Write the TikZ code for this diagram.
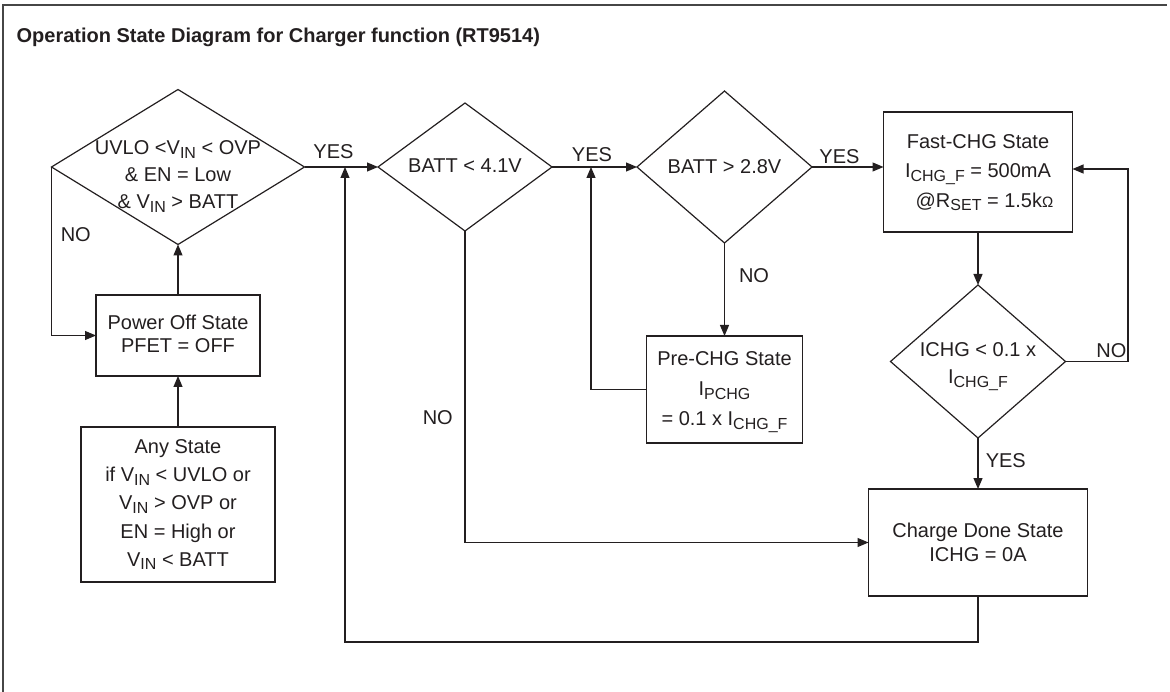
\documentclass[tikz,border=0pt]{standalone}
\usepackage{fontspec}
\setmainfont{Liberation Sans}
\usetikzlibrary{shapes.geometric,arrows.meta,calc}
\definecolor{ink}{RGB}{35,31,32}
\definecolor{framec}{RGB}{70,70,70}
\newcommand{\lsub}[1]{\raisebox{-3.3pt}{\fontsize{16}{16}\selectfont #1}}
\begin{document}
\begin{tikzpicture}[x=1pt,y=-1pt,line width=1.2pt]
\tikzset{
  dia/.style={shape=diamond,draw=ink,inner sep=0pt,outer sep=0pt},
  stbox/.style={shape=rectangle,draw=ink,inner sep=0pt,outer sep=0pt},
  txt/.style={align=center,inner sep=0pt,text=ink},
  lbl/.style={font=\fontsize{20}{24}\selectfont,inner sep=0pt,text=ink},
  arr/.style={draw=ink,-{Triangle[length=11pt,width=9pt]}},
  framel/.style={draw=framec,line width=1.8pt}
}
\useasboundingbox (0,0) rectangle (1170,692);
% frame
\coordinate (fbl) at (3,692);
\coordinate (ftl) at (3,5);
\coordinate (ftr) at (1167,5);
\draw[framel] (fbl) -- (ftl) -- (ftr);
% title
\node[anchor=base west,inner sep=0pt,text=ink,font=\fontsize{20}{24}\selectfont\bfseries] (title) at (16,43)
  {Operation State Diagram for Charger function (RT9514)};
% decision diamonds
\node[dia,minimum width=253pt,minimum height=155pt] (d1) at (178,167) {};
\node[dia,minimum width=174pt,minimum height=128pt] (d2) at (465,167) {};
\node[dia,minimum width=175pt,minimum height=152pt] (d3) at (724.5,167) {};
\node[dia,minimum width=175pt,minimum height=153pt] (d4) at (978,361.5) {};
% state boxes
\node[stbox,minimum width=164pt,minimum height=81pt] (poff) at (178,335.5) {};
\node[stbox,minimum width=194pt,minimum height=155pt] (any) at (178,504.5) {};
\node[stbox,minimum width=189pt,minimum height=120pt] (fast) at (978,172) {};
\node[stbox,minimum width=156pt,minimum height=107pt] (pre) at (724.5,389.5) {};
\node[stbox,minimum width=219pt,minimum height=107pt] (done) at (978,542.5) {};
% texts
\node[txt,font=\fontsize{20}{27}\selectfont] (t1) at (178,176.5)
  {UVLO <V\lsub{IN} < OVP\\ \& EN = Low\\ \& V\lsub{IN} > BATT};
\node[txt,font=\fontsize{20}{24}\selectfont] (t2) at (465,165.8) {BATT < 4.1V};
\node[txt,font=\fontsize{20}{24}\selectfont] (t3) at (724.5,166.7) {BATT > 2.8V};
\node[txt,font=\fontsize{20}{27.5}\selectfont] (t4) at (978,366.5)
  {ICHG < 0.1 x\\ I\lsub{CHG\_F}};
\node[txt,font=\fontsize{20}{23.3}\selectfont] (tp) at (178,333.6)
  {Power Off State\\ PFET = OFF};
\node[txt,font=\fontsize{20}{28.2}\selectfont] (ta) at (178,504.6)
  {Any State\\ if V\lsub{IN} < UVLO or\\ V\lsub{IN} > OVP or\\ EN = High or\\ V\lsub{IN} < BATT};
\node[txt,font=\fontsize{20}{29.5}\selectfont] (tf) at (978,172.6)
  {Fast-CHG State\\ I\lsub{CHG\_F} = 500mA\\ \hspace*{13pt}@R\lsub{SET} = 1.5k{\fontsize{15}{15}\selectfont Ω}};
\node[txt,font=\fontsize{20}{30.2}\selectfont] (tpre) at (724.5,392)
  {Pre-CHG State\\ I\lsub{PCHG}\\ = 0.1 x I\lsub{CHG\_F}};
\node[txt,font=\fontsize{20}{24}\selectfont] (td) at (978,541.9)
  {Charge Done State\\ ICHG = 0A};
% helper coordinates
\coordinate (j1) at (345,167);
\coordinate (bot) at (345,642);
\coordinate (j2) at (591,167);
\coordinate (r4) at (1128,169);
% connectors
\draw[arr] (d1.east) -- (d2.west);
\draw[arr] (d2.east) -- (d3.west);
\draw[arr] (d3.east) -- (d3.east -| fast.west);
\draw[arr] (fast.south) -- (d4.north);
\draw[arr] (d4.east) -| (r4) -- (r4 -| fast.east);
\draw[arr] (d4.south) -- (done.north);
\draw[arr] (d3.south) -- (pre.north);
\draw[arr] (pre.west) -| (j2);
\draw[arr] (d2.south) |- (done.west);
\draw[arr] (done.south) |- (bot) -- (j1);
\draw[arr] (d1.west) |- (poff.west);
\draw[arr] (poff.north) -- (d1.south);
\draw[arr] (any.north) -- (poff.south);
% connector labels
\node[lbl] (y1) at (333.5,151.7) {YES};
\node[lbl] (y2) at (592,155) {YES};
\node[lbl] (y3) at (839.5,156.7) {YES};
\node[lbl] (y4) at (1005.8,460.8) {YES};
\node[lbl] (n1) at (75.8,235) {NO};
\node[lbl] (n2) at (437.8,418) {NO};
\node[lbl] (n3) at (754,276) {NO};
\node[lbl] (n4) at (1111.3,351) {NO};
\end{tikzpicture}
\end{document}
